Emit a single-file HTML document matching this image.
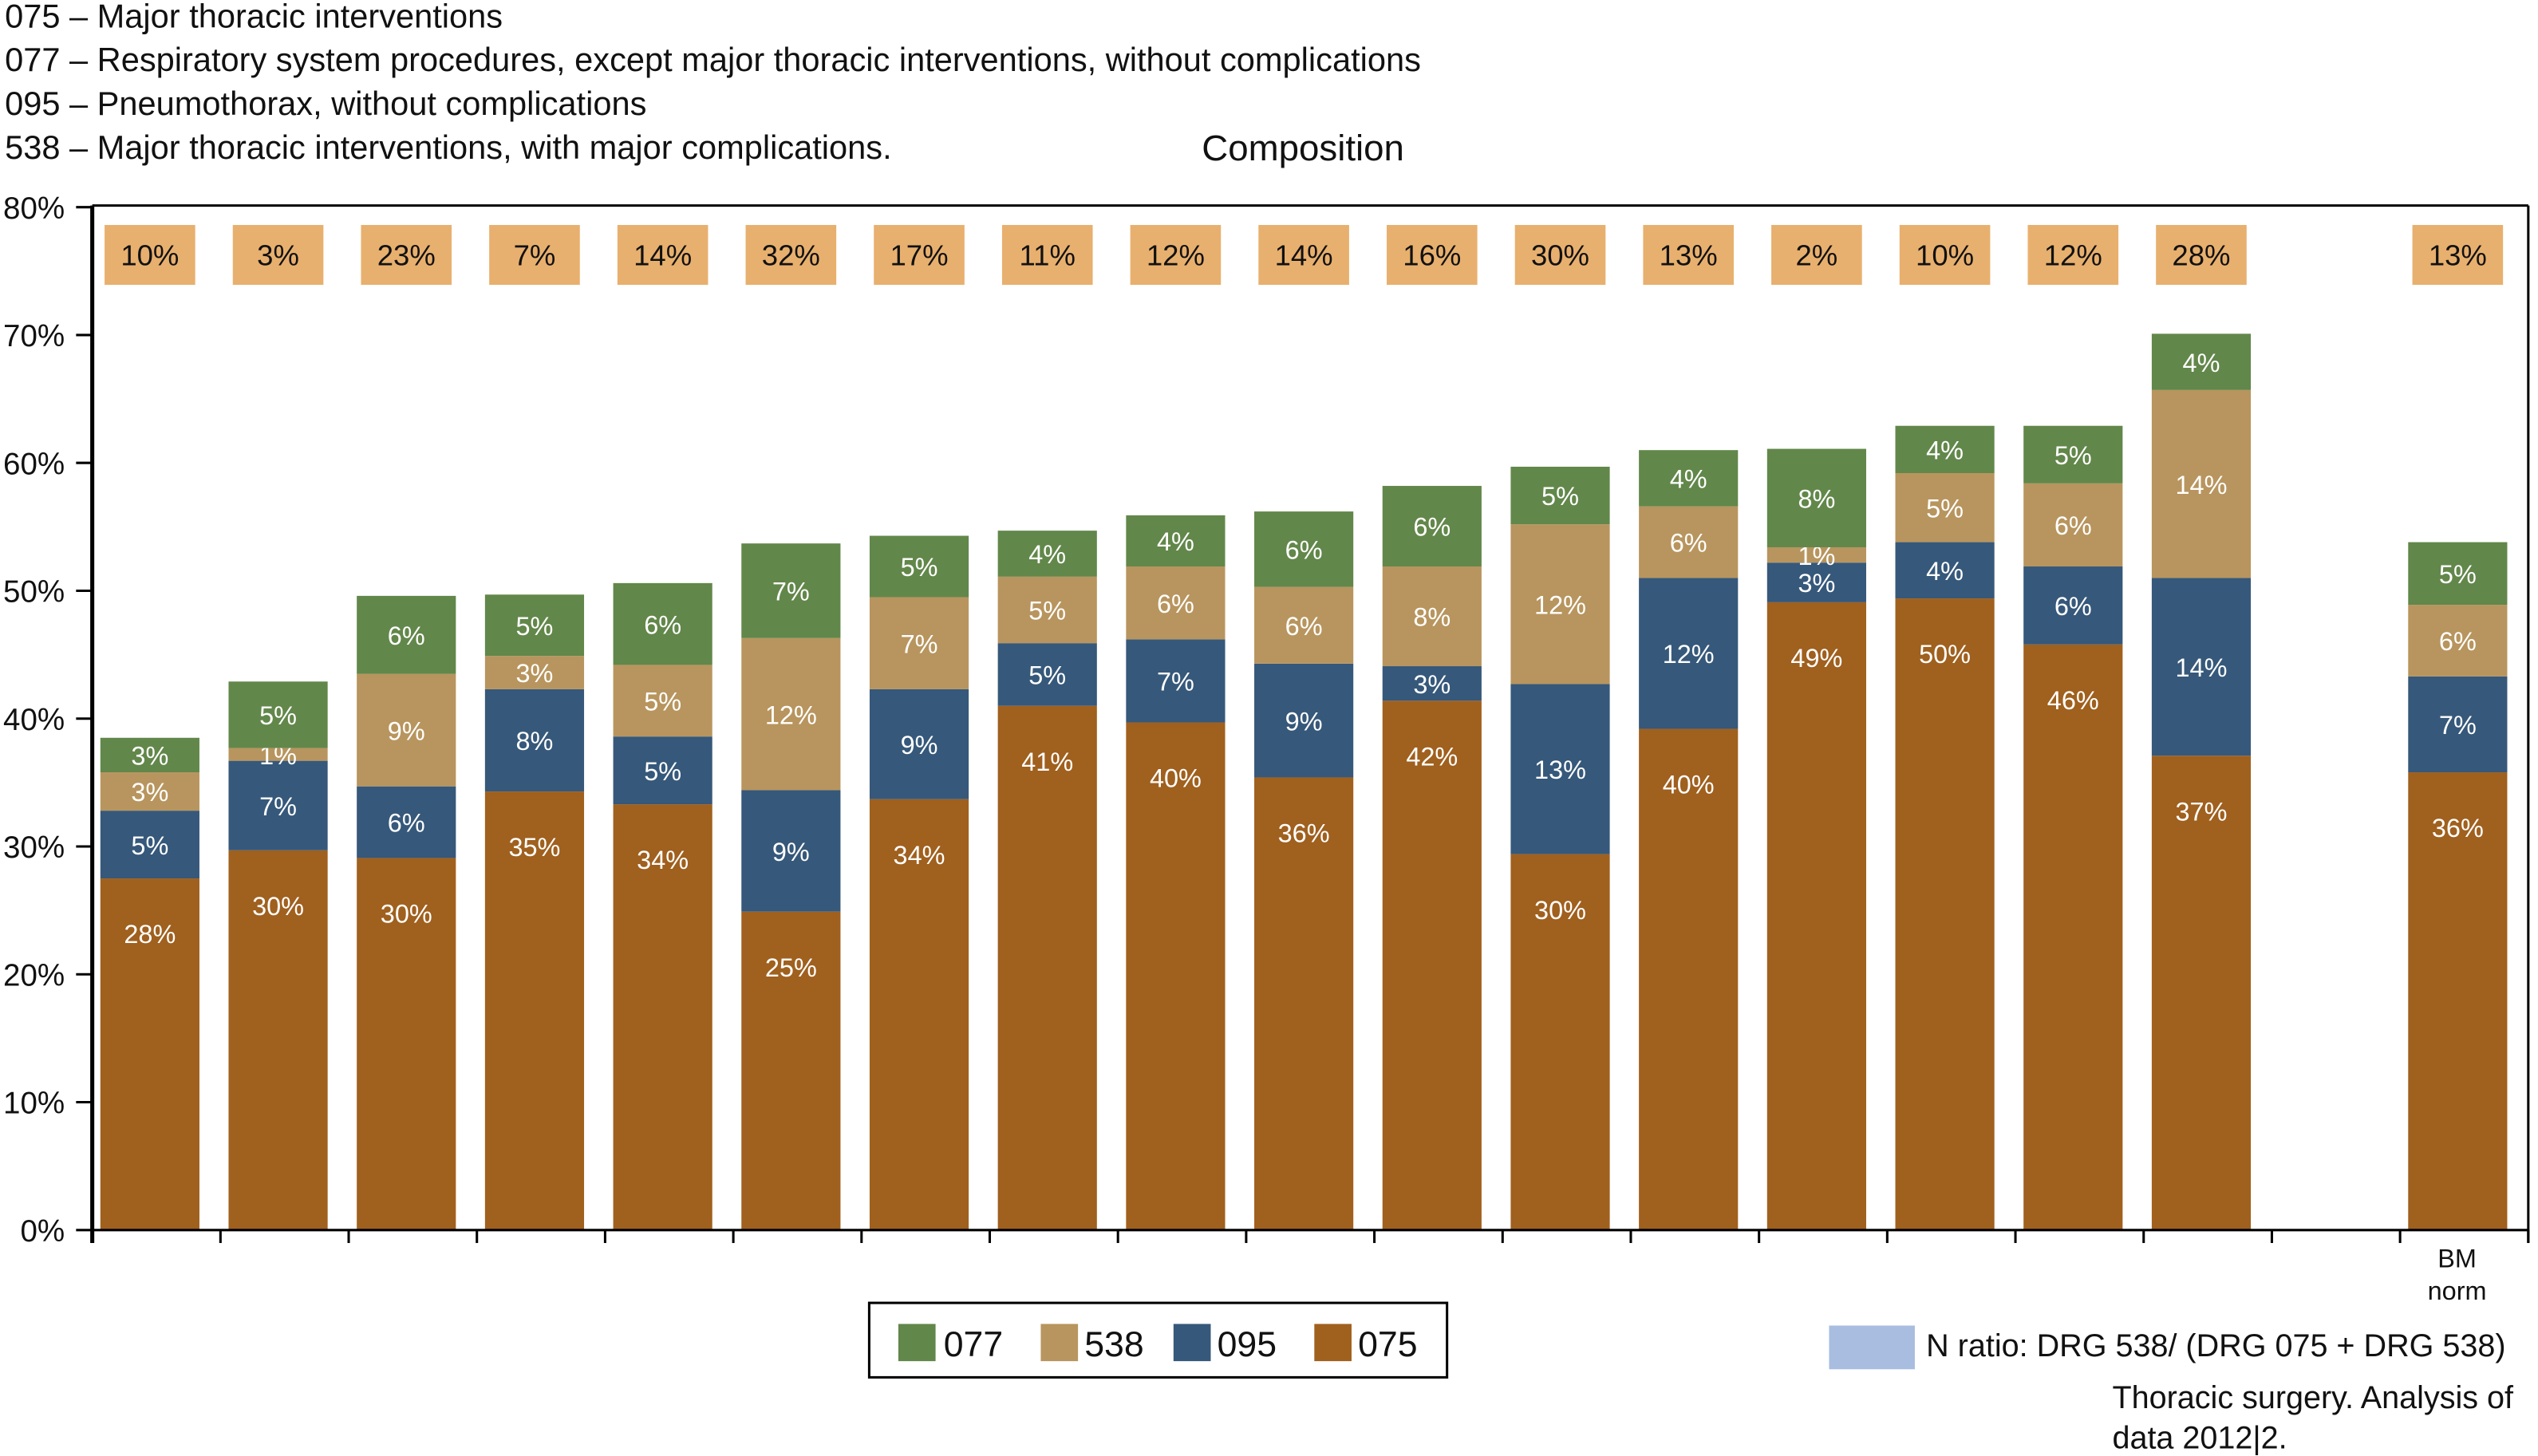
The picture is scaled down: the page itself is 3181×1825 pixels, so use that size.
<!DOCTYPE html>
<html><head><meta charset="utf-8"><style>
html,body{margin:0;padding:0;background:#fff}
svg{display:block;font-family:"Liberation Sans",Arial,sans-serif}
</style></head><body>
<svg id="chart" width="3181" height="1825" viewBox="0 0 1568 899.6" preserveAspectRatio="none" xmlns="http://www.w3.org/2000/svg">
<g font-size="20.5" fill="#111">
<text x="3" y="17">075 – Major thoracic interventions</text>
<text x="3" y="44">077 – Respiratory system procedures, except major thoracic interventions, without complications</text>
<text x="3" y="71">095 – Pneumothorax, without complications</text>
<text x="3" y="98">538 – Major thoracic interventions, with major complications.</text>
</g>
<text x="805" y="99" text-anchor="middle" font-size="22.5" fill="#111">Composition</text>
<g id="yaxis"></g>
<g id="bars"></g>
<g id="ratios"></g>
<line x1="57" y1="127" x2="1562" y2="127" stroke="#000" stroke-width="1.5"/>
<line x1="1562" y1="127" x2="1562" y2="768" stroke="#000" stroke-width="1.5"/>
<line x1="57" y1="127" x2="57" y2="768" stroke="#000" stroke-width="2.5"/>
<line x1="57" y1="760" x2="1562" y2="760" stroke="#000" stroke-width="1.5"/>
<text x="1518" y="783" text-anchor="middle" font-size="16" fill="#111">BM</text>
<text x="1518" y="803" text-anchor="middle" font-size="16" fill="#111">norm</text>
<g>
<rect x="537" y="805" width="357" height="46" fill="#fff" stroke="#000" stroke-width="1.5"/>
<rect x="555" y="818" width="23" height="23" fill="#62874a"/>
<text x="583" y="838" font-size="22" fill="#111">077</text>
<rect x="643" y="818" width="23" height="23" fill="#b8955e"/>
<text x="670" y="838" font-size="22" fill="#111">538</text>
<rect x="725" y="818" width="23" height="23" fill="#36587a"/>
<text x="752" y="838" font-size="22" fill="#111">095</text>
<rect x="812" y="818" width="23" height="23" fill="#a0601e"/>
<text x="839" y="838" font-size="22" fill="#111">075</text>
</g>
<rect x="1130" y="819" width="53" height="27" fill="#a9bde0"/>
<text x="1190" y="838" font-size="19.5" fill="#111">N ratio: DRG 538/ (DRG 075 + DRG 538)</text>
<text x="1305" y="870" font-size="19.5" fill="#111">Thoracic surgery. Analysis of</text>
<text x="1305" y="895" font-size="19.5" fill="#111">data 2012|2.</text>
</svg>
<script>
const ticks = [0,10,20,30,40,50,60,70,80];
const v075 = [27.5,29.7,29.1,34.3,33.3,24.9,33.7,41.0,39.7,35.4,41.4,29.4,39.2,49.1,49.4,45.8,37.1,35.8];
const v095 = [5.3,7.0,5.6,8.0,5.3,9.5,8.6,4.9,6.5,8.9,2.7,13.3,11.8,3.1,4.4,6.1,13.9,7.5];
const v538 = [3.0,1.0,8.8,2.6,5.6,11.9,7.2,5.2,5.7,6.0,7.8,12.5,5.6,1.2,5.4,6.5,14.7,5.6];
const v077 = [2.7,5.2,6.1,4.8,6.4,7.4,4.8,3.6,4.0,5.9,6.3,4.5,4.4,7.7,3.7,4.5,4.4,4.9];
const l075 = [28,30,30,35,34,25,34,41,40,36,42,30,40,49,50,46,37,36];
const l095 = [5,7,6,8,5,9,9,5,7,9,3,13,12,3,4,6,14,7];
const l538 = [3,1,9,3,5,12,7,5,6,6,8,12,6,1,5,6,14,6];
const l077 = [3,5,6,5,6,7,5,4,4,6,6,5,4,8,4,5,4,5];
const ratios = [10,3,23,7,14,32,17,11,12,14,16,30,13,2,10,12,28,13];
const slots = [0,1,2,3,4,5,6,7,8,9,10,11,12,13,14,15,16,18];

const NS='http://www.w3.org/2000/svg';
const X0=57, X1=1562, NSLOT=19, SW=(X1-X0)/NSLOT;
const yScale = v => 760 - v*(760-128)/80;
const xScale = s => X0 + s*SW;
function mk(tag, attrs, parent){const e=document.createElementNS(NS,tag);for(const k in attrs)e.setAttribute(k,attrs[k]);parent.appendChild(e);return e;}

const ya=document.getElementById('yaxis');
ticks.forEach(t=>{
  const l=mk('line',{x1:47,x2:57,y1:yScale(t),y2:yScale(t),stroke:'#000','stroke-width':1.5},ya);
  
  
  const tx=mk('text',{x:40,y:yScale(t)+7,'text-anchor':'end','font-size':19,fill:'#111'},ya);
  tx.textContent=t+'%';
  
  
});
for(let s=0;s<=NSLOT;s++){
  const l=mk('line',{x1:xScale(s),x2:xScale(s),y1:760,y2:768,stroke:'#000','stroke-width':1.5},ya);
  
  
}

const bars=document.getElementById('bars'), rg=document.getElementById('ratios');
const series=[[v075,l075,'#a0601e','075'],[v095,l095,'#36587a','095'],[v538,l538,'#b8955e','538'],[v077,l077,'#62874a','077']];
slots.forEach((s,i)=>{
  const bx=xScale(s)+5, bw=SW-18, cx=bx+bw/2;
  let base=0;
  series.forEach(([vals,labs,col,name],k)=>{
    const v=vals[i], yt=yScale(base+v), yb=yScale(base);
    const r=mk('rect',{x:bx,y:yt,width:bw,height:yb-yt,fill:col},bars);
    
    
    const ly = k===0 ? Math.min(yt+40,(yt+yb)/2) : (yt+yb)/2+6;
    const t=mk('text',{x:cx,y:ly,'text-anchor':'middle','font-size':16,fill:'#fff'},bars);
    t.textContent=labs[i]+'%';
    
    
    base+=v;
  });
  const b=mk('rect',{x:cx-28,y:139,width:56,height:37,fill:'#e8b06e'},rg);
  
  
  const t=mk('text',{x:cx,y:164,'text-anchor':'middle','font-size':18,fill:'#111'},rg);
  t.textContent=ratios[i]+'%';
  
  
});
</script>
</body></html>
